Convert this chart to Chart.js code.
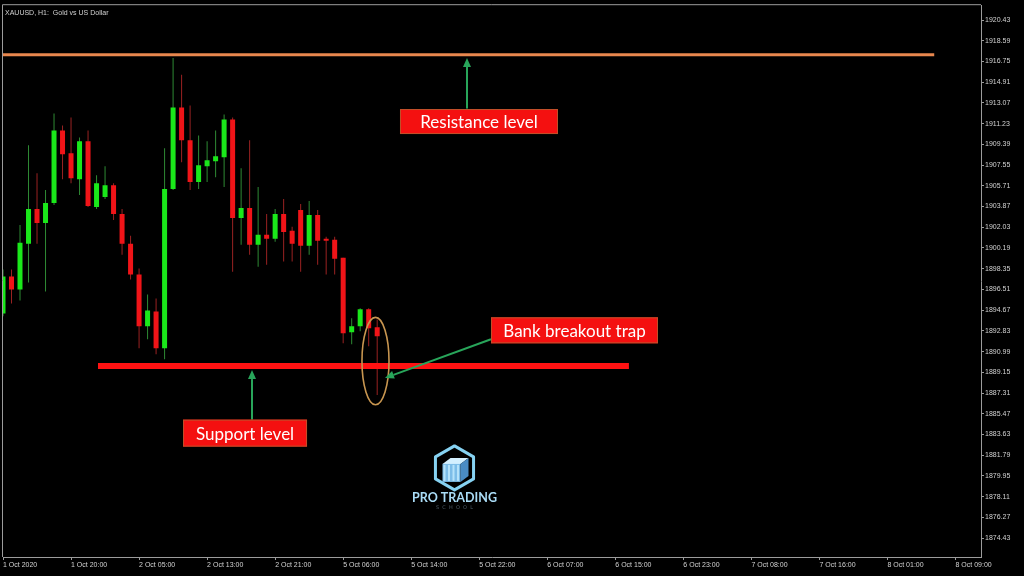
<!DOCTYPE html>
<html><head><meta charset="utf-8">
<script src="https://cdn.jsdelivr.net/npm/chart.js@4.4.1/dist/chart.umd.min.js"></script>
<style>html,body{margin:0;padding:0;background:#000;overflow:hidden}#wrap{width:1024px;height:576px;position:relative}</style>
</head><body><div id="wrap"><canvas id="c" width="1024" height="576"></canvas></div>
<script>
// ---------- data ----------
const chartTitle = 'XAUUSD, H1:  Gold vs US Dollar';
const xTickBars = [0, 8, 16, 24, 32, 40, 48, 56, 64, 72, 80, 88, 96, 104, 112];
const xTickLabels = ['1 Oct 2020','1 Oct 20:00','2 Oct 05:00','2 Oct 13:00','2 Oct 21:00','5 Oct 06:00','5 Oct 14:00','5 Oct 22:00','6 Oct 07:00','6 Oct 15:00','6 Oct 23:00','7 Oct 08:00','7 Oct 16:00','8 Oct 01:00','8 Oct 09:00'];
const yTickValues = [1920.43,1918.59,1916.75,1914.91,1913.07,1911.23,1909.39,1907.55,1905.71,1903.87,1902.03,1900.19,1898.35,1896.51,1894.67,1892.83,1890.99,1889.15,1887.31,1885.47,1883.63,1881.79,1879.95,1878.11,1876.27,1874.43];
const opens  = [1894.38,1897.65,1896.50,1900.56,1903.65,1902.42,1904.18,1910.63,1908.60,1906.30,1909.66,1903.83,1904.71,1905.77,1903.21,1900.56,1897.83,1893.24,1894.56,1891.29,1905.42,1912.66,1909.75,1906.04,1907.45,1907.89,1908.25,1911.60,1902.86,1903.74,1900.48,1901.36,1901.01,1903.21,1901.71,1903.57,1900.39,1903.13,1901.01,1900.92,1899.33,1892.71,1893.24,1894.74,1893.15];
const highs  = [1898.27,1898.27,1902.24,1909.31,1906.83,1905.33,1912.13,1911.07,1911.78,1910.01,1910.63,1906.66,1907.45,1905.95,1903.65,1901.27,1898.36,1896.06,1895.71,1909.04,1917.07,1915.57,1912.84,1910.19,1909.66,1910.63,1912.04,1911.78,1907.27,1909.75,1905.60,1903.21,1903.65,1904.54,1902.07,1904.10,1904.36,1903.57,1901.18,1901.18,1899.33,1893.94,1894.83,1894.83,1893.85];
const lows   = [1894.12,1895.27,1895.53,1897.12,1900.56,1896.33,1904.01,1906.30,1905.95,1904.89,1903.83,1903.65,1904.54,1902.68,1899.59,1897.39,1891.29,1892.09,1890.76,1890.32,1905.33,1907.80,1905.33,1905.42,1906.04,1906.48,1905.60,1898.09,1900.48,1899.59,1898.53,1898.71,1900.74,1898.98,1898.98,1898.09,1899.59,1898.71,1897.83,1897.83,1891.74,1891.65,1892.80,1891.47,1887.14];
const closes = [1897.65,1896.50,1900.65,1903.65,1902.42,1904.18,1910.63,1908.51,1906.39,1909.66,1903.92,1905.95,1905.77,1903.21,1900.56,1897.83,1893.24,1894.65,1891.29,1905.42,1912.66,1909.75,1906.04,1907.54,1907.98,1908.33,1911.60,1902.86,1903.74,1900.48,1901.36,1901.01,1903.21,1901.62,1900.56,1900.39,1903.13,1900.83,1900.83,1899.24,1892.62,1893.24,1894.74,1893.06,1892.35];
const resistanceLevel = 1917.34;
const supportLevel = 1889.71;
const labelTexts = ['Resistance level', 'Support level', 'Bank breakout trap'];

// ---------- annotation placement (data units: bar index, price) ----------
const resistanceSpan = [0, 109.5];
const supportSpan = [11.17, 73.6];
const labelAnchors = [ {bar: 55.97, price: 1911.42, w: 158, h: 25},
                       {bar: 28.46, price: 1883.75, w: 124, h: 27},
                       {bar: 67.20, price: 1892.88, w: 167, h: 26} ];
const arrows = [ {from:[54.56, 1912.57], to:[54.56, 1917.07]},
                 {from:[29.28, 1884.94], to:[29.28, 1889.35]},
                 {from:[57.38, 1892.09], to:[44.92, 1888.65]} ];
const trapEllipse = {bar: 43.8, price: 1890.15, rBars: 1.59, rPrice: 3.88};
const logoAnchor = {bar: 53.09, price: 1880.66};

// ---------- styles ----------
const BULL = '#1ae81a', BEAR = '#f01418', BULL_WICK = '#2e8a34', BEAR_WICK = '#9a2222';
const AXIS = '#9c9c9c', TXT = '#d2d2d2';

const idx = opens.map((_, i) => i);
const isBull = i => closes[i] >= opens[i];

const overlay = {
  id: 'overlay',
  beforeDraw(chart) {
    const c = chart.ctx;
    c.save(); c.fillStyle = '#000'; c.fillRect(0, 0, chart.width, chart.height); c.restore();
  },
  afterDraw(chart) {
    const c = chart.ctx, xs = chart.scales.x, ys = chart.scales.y, a = chart.chartArea;
    const X = v => xs.getPixelForValue(v), Y = v => ys.getPixelForValue(v);
    c.save();
    // frame
    c.strokeStyle = AXIS; c.lineWidth = 1;
    c.beginPath();
    c.moveTo(a.left - 0.5, a.bottom); c.lineTo(a.left - 0.5, a.top - 0.5); c.lineTo(a.right, a.top - 0.5);
    c.stroke();
    // title
    c.fillStyle = TXT; c.font = '7px "Liberation Sans"'; c.textBaseline = 'middle'; c.textAlign = 'left';
    c.fillText(chartTitle, a.left + 2, a.top + 8);
    // resistance line
    c.strokeStyle = '#e8874e'; c.lineWidth = 3;
    c.beginPath(); c.moveTo(X(resistanceSpan[0]), Y(resistanceLevel)); c.lineTo(X(resistanceSpan[1]), Y(resistanceLevel)); c.stroke();
    // support line
    c.strokeStyle = '#ff1212'; c.lineWidth = 6;
    c.beginPath(); c.moveTo(X(supportSpan[0]), Y(supportLevel)); c.lineTo(X(supportSpan[1]), Y(supportLevel)); c.stroke();
    // ellipse
    const ex = X(trapEllipse.bar), ey = Y(trapEllipse.price);
    const rx = X(trapEllipse.bar + trapEllipse.rBars) - ex, ry = ey - Y(trapEllipse.price + trapEllipse.rPrice);
    c.strokeStyle = '#c89650'; c.lineWidth = 1.6;
    c.beginPath(); c.ellipse(ex, ey, rx, ry, 0, 0, Math.PI * 2); c.stroke();
    // arrows
    c.strokeStyle = '#28a55a'; c.fillStyle = '#28a55a'; c.lineWidth = 2;
    arrows.forEach(ar => {
      const x1 = X(ar.from[0]), y1 = Y(ar.from[1]), x2 = X(ar.to[0]), y2 = Y(ar.to[1]);
      const ang = Math.atan2(y2 - y1, x2 - x1), hl = 9, hw = 4;
      const bx = x2 - hl * Math.cos(ang), by = y2 - hl * Math.sin(ang);
      c.beginPath(); c.moveTo(x1, y1); c.lineTo(bx, by); c.stroke();
      c.beginPath(); c.moveTo(x2, y2);
      c.lineTo(bx + hw * Math.sin(ang), by - hw * Math.cos(ang));
      c.lineTo(bx - hw * Math.sin(ang), by + hw * Math.cos(ang));
      c.closePath(); c.fill();
    });
    // label boxes
    labelAnchors.forEach((lb, k) => {
      const cx = X(lb.bar), cy = Y(lb.price);
      c.fillStyle = '#f41010'; c.fillRect(cx - lb.w / 2, cy - lb.h / 2, lb.w, lb.h);
      c.strokeStyle = '#c0502a'; c.lineWidth = 1; c.strokeRect(cx - lb.w / 2 + 0.5, cy - lb.h / 2 + 0.5, lb.w - 1, lb.h - 1);
      c.fillStyle = '#ffffff'; c.font = '17px Lato'; c.textAlign = 'center'; c.textBaseline = 'middle';
      c.fillText(labelTexts[k], cx, cy + 1);
    });
    // logo
    const lx = X(logoAnchor.bar), ly = Y(logoAnchor.price);
    const r = 22;
    c.strokeStyle = '#86d2f2'; c.lineWidth = 3; c.lineJoin = 'round';
    c.beginPath();
    for (let k = 0; k < 6; k++) {
      const t = -Math.PI / 2 + k * Math.PI / 3;
      const px = lx + r * Math.cos(t), py = ly + r * Math.sin(t);
      k ? c.lineTo(px, py) : c.moveTo(px, py);
    }
    c.closePath(); c.stroke();
    // cube
    c.fillStyle = '#d4f0ff';
    c.beginPath(); c.moveTo(lx - 12, ly - 4); c.lineTo(lx - 4, ly - 10); c.lineTo(lx + 14, ly - 10); c.lineTo(lx + 6, ly - 4); c.closePath(); c.fill();
    c.fillStyle = '#7dbde8'; c.fillRect(lx - 12, ly - 4, 18, 18);
    c.fillStyle = '#b5e2fa';
    for (let k = 0; k < 4; k++) c.fillRect(lx - 11 + k * 4.5, ly - 3, 2, 16);
    c.fillStyle = '#4a8cc4';
    c.beginPath(); c.moveTo(lx + 6, ly - 4); c.lineTo(lx + 14, ly - 10); c.lineTo(lx + 14, ly + 8); c.lineTo(lx + 6, ly + 14); c.closePath(); c.fill();
    c.fillStyle = '#aadcf6'; c.font = 'bold 12.5px Lato'; c.textAlign = 'center'; c.textBaseline = 'middle';
    c.fillText('PRO TRADING', lx, ly + 30);
    c.fillStyle = '#4c5a66'; c.font = '5px "DejaVu Sans"';
    c.fillText('S  C  H  O  O  L', lx, ly + 40);
    c.restore();
  }
};

new Chart(document.getElementById('c'), {
  type: 'bar',
  data: {
    datasets: [
      { label: 'wick', data: idx.map(i => ({ x: i, y: [lows[i], highs[i]] })),
        backgroundColor: idx.map(i => isBull(i) ? BULL_WICK : BEAR_WICK),
        barThickness: 1, grouped: false, order: 2, inflateAmount: 0 },
      { label: 'body', data: idx.map(i => ({ x: i, y: [opens[i], closes[i]] })),
        backgroundColor: idx.map(i => isBull(i) ? BULL : BEAR),
        barThickness: 5, grouped: false, order: 1, minBarLength: 1, inflateAmount: 0 }
    ]
  },
  options: {
    responsive: false, animation: false, devicePixelRatio: 1,
    layout: { padding: { left: 3, top: 2, right: 0, bottom: 0 } },
    plugins: { legend: { display: false }, tooltip: { enabled: false } },
    scales: {
      x: { type: 'linear', min: 0, max: 115, offset: false,
        grid: { offset: false, drawOnChartArea: false, drawTicks: true, tickLength: 3, color: AXIS },
        border: { display: true, color: AXIS },
        ticks: { color: TXT, font: { family: 'Liberation Sans', size: 7 }, align: 'start', maxRotation: 0, autoSkip: false, padding: 1,
          callback: v => { const k = xTickBars.indexOf(v); return k >= 0 ? xTickLabels[k] : ''; } },
        afterBuildTicks: s => { s.ticks = xTickBars.map(v => ({ value: v })); },
        afterFit: s => { s.height = 19; } },
      y: { position: 'right', min: 1872.75, max: 1921.75,
        grid: { drawOnChartArea: false, drawTicks: true, tickLength: 3, color: AXIS },
        border: { display: true, color: AXIS },
        ticks: { color: TXT, font: { family: 'Liberation Sans', size: 7 }, padding: 1, callback: v => Number(v).toFixed(2) },
        afterBuildTicks: s => { s.ticks = yTickValues.map(v => ({ value: v })); },
        afterFit: s => { s.width = 43; } }
    }
  },
  plugins: [overlay]
});
</script></body></html>
